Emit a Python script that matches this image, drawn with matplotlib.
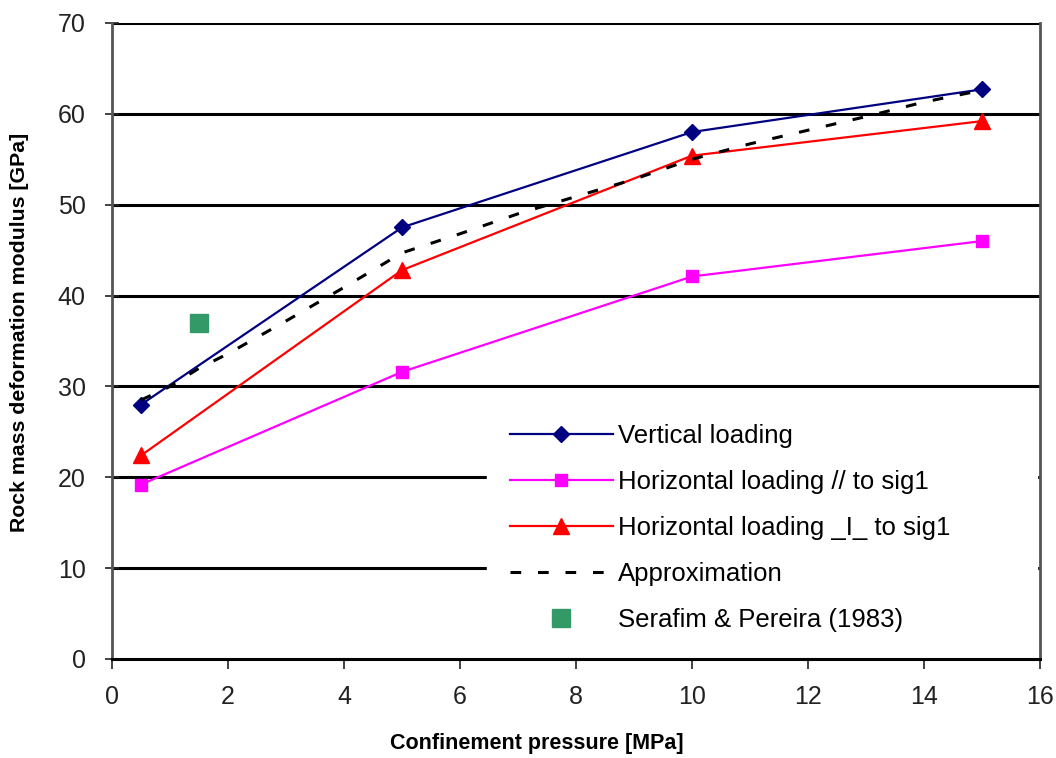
import matplotlib.pyplot as plt

plt.rcParams['font.family'] = ['Liberation Sans', 'DejaVu Sans']

# confinement pressure [MPa]
pressure = [0.5, 5, 10, 15]
vertical = [28.0, 47.5, 58.0, 62.7]
horiz_par = [19.2, 31.6, 42.1, 46.0]
horiz_perp = [22.4, 42.8, 55.4, 59.2]

# approximation curve
approx_x = [0.5, 1, 1.5, 2, 3, 4, 5, 6, 7, 8, 9, 10, 11, 12, 13, 14, 15]
approx_y = [28.5, 30.0, 32.0, 33.6, 37.2, 40.9, 44.7, 46.8, 49.0, 50.9,
            52.8, 55.0, 56.7, 58.2, 59.7, 61.3, 62.6]

serafim_x = [1.5]
serafim_y = [37.0]

fig = plt.figure(figsize=(10.56, 7.58), dpi=100)
ax = fig.add_axes([112 / 1056, 1 - 659 / 758, 928 / 1056, 636 / 758])

# horizontal grid lines
for g in range(10, 80, 10):
    ax.axhline(g, color='black', lw=2.2, zorder=1)

ax.plot(pressure, vertical, color='#000080', lw=1.6, marker='D', ms=8.5,
        label='Vertical loading', zorder=3)
ax.plot(pressure, horiz_par, color='#FF00FF', lw=1.6, marker='s', ms=9,
        label='Horizontal loading // to sig1', zorder=3)
ax.plot(pressure, horiz_perp, color='#FF0000', lw=1.6, marker='^', ms=11,
        label='Horizontal loading _I_ to sig1', zorder=3)
ax.plot(approx_x, approx_y, color='black', lw=2.2, ls=(0, (3.5, 5.5)),
        label='Approximation', zorder=4)
ax.plot(serafim_x, serafim_y, ls='none', marker='s', ms=13, color='#339966',
        label='Serafim & Pereira (1983)', zorder=3)

ax.set_xlim(0, 16)
ax.set_ylim(0, 70)
ax.set_xticks(range(0, 17, 2))
ax.set_yticks(range(0, 71, 10))
ax.tick_params(axis='both', labelsize=18, colors='#222222', length=7, width=1.2)
ax.tick_params(axis='y', direction='inout', length=10, pad=14)
ax.tick_params(axis='x', direction='out', pad=12)

for s in ['left', 'right']:
    ax.spines[s].set_color('#555555')
    ax.spines[s].set_linestyle((0, (1, 1)))
    ax.spines[s].set_linewidth(2)
ax.spines['top'].set_visible(False)
ax.spines['bottom'].set_linewidth(2.2)

ax.set_xlabel('Confinement pressure [MPa]', fontsize=15.5, fontweight='bold')
ax.xaxis.set_label_coords((537 - 112) / 928, -(733 - 659) / 636)
ax.set_ylabel('Rock mass deformation modulus [GPa]', fontsize=15.3, fontweight='bold')
ax.yaxis.set_label_coords(-(112 - 29) / 928, 0.514)

leg = ax.legend(loc='lower left', bbox_to_anchor=(0.404, 0.006, 0.593, 0.39),
                mode='expand', frameon=True, fontsize=18.5, handlelength=4.0,
                labelspacing=0.86, borderaxespad=0, borderpad=0.9,
                handletextpad=0.2)
leg.get_frame().set_edgecolor('white')
leg.get_frame().set_facecolor('white')
leg.get_frame().set_alpha(1)
leg.get_frame().set_boxstyle('square', pad=0)
leg.set_zorder(5)

fig.savefig('out.png', dpi=100)
